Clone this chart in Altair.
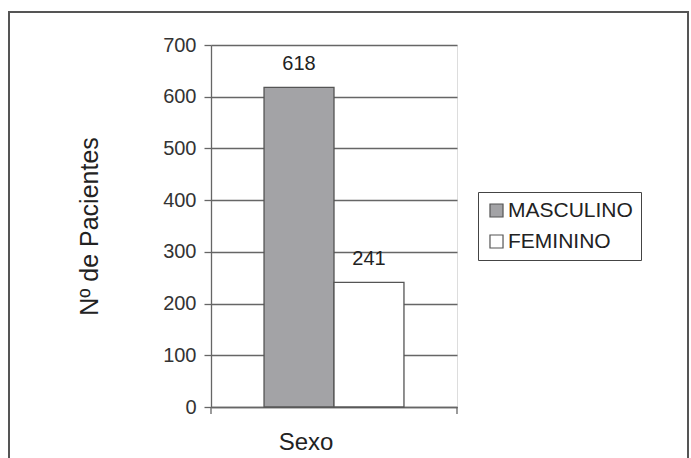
import altair as alt
import pandas as pd

# Patients by sex
categoria = ["Sexo", "Sexo"]
sexo = ["MASCULINO", "FEMININO"]
pacientes = [618, 241]
y_ticks = [0, 100, 200, 300, 400, 500, 600, 700]

df = pd.DataFrame({"categoria": categoria, "sexo": sexo, "pacientes": pacientes})

W, H = 246, 362
LEFT, TOP = 211, 45
FONT = "Liberation Sans"
LINE = "#666666"

x_enc = alt.X(
    "categoria:N",
    title=None,
    scale=alt.Scale(paddingOuter=0.379, paddingInner=0),
    axis=alt.Axis(
        labelAngle=0, labelFontSize=24, labelPadding=23, labelColor="#222222",
        labelOffset=-28,
        ticks=False, domainColor=LINE, domainWidth=1.3, grid=False,
    ),
)
xoff_enc = alt.XOffset("sexo:N", sort=sexo, scale=alt.Scale(paddingInner=0, paddingOuter=0))
y_enc = alt.Y(
    "pacientes:Q",
    title="Nº de Pacientes",
    scale=alt.Scale(domain=[0, 700], nice=False),
    axis=alt.Axis(
        values=y_ticks, labelFontSize=20, labelColor="#333333", labelPadding=8,
        tickSize=7, tickColor=LINE, tickWidth=1.3,
        domainColor=LINE, domainWidth=1.3,
        gridColor=LINE, gridWidth=1.3,
        titleFontSize=25, titleFontWeight="normal", titleColor="#222222", titlePadding=60,
    ),
)

bars = alt.Chart(df).mark_bar(stroke="#555555", strokeWidth=1.3).encode(
    x=x_enc,
    xOffset=xoff_enc,
    y=y_enc,
    color=alt.Color(
        "sexo:N",
        sort=sexo,
        scale=alt.Scale(domain=sexo, range=["#a3a3a6", "#ffffff"]),
        legend=alt.Legend(
            title=None, orient="none", legendX=478 - LEFT, legendY=192 - TOP,
            symbolType="square", symbolSize=170, symbolStrokeColor="#555555",
            symbolStrokeWidth=1.2, labelFontSize=21, labelColor="#222222",
            labelOffset=1, rowPadding=9, padding=8,
            strokeColor="#444444",
        ),
    ),
)

labels = alt.Chart(df).mark_text(
    baseline="alphabetic", dy=-17, fontSize=20, color="#222222", font=FONT
).encode(x=x_enc, xOffset=xoff_enc, y=alt.Y("pacientes:Q"), text="pacientes:Q")

# small end ticks under the category axis
tick_df = pd.DataFrame({"k": [0]})
tick_left = alt.Chart(tick_df).mark_rule(color=LINE, strokeWidth=1.3).encode(
    x=alt.value(0), y=alt.value(H), y2=alt.value(H + 7)
)
tick_right = alt.Chart(tick_df).mark_rule(color=LINE, strokeWidth=1.3).encode(
    x=alt.value(W), y=alt.value(H), y2=alt.value(H + 7)
)

# outer frame
frame = alt.Chart(tick_df).mark_rect(
    fill="transparent", stroke="#555555", strokeWidth=2
).encode(
    x=alt.value(9 - LEFT), x2=alt.value(688 - LEFT), y=alt.value(12 - TOP), y2=alt.value(430),
)

chart = alt.layer(frame, bars, labels, tick_left, tick_right).properties(
    width=W, height=H,
    padding={"left": LEFT, "top": TOP, "right": 691 - LEFT - W, "bottom": 458 - TOP - H},
    autosize=alt.AutoSizeParams(type="none"),
    background="white",
).configure_view(strokeWidth=0).configure_legend(strokeWidth=1).configure(font=FONT)

chart.save("out.html", embed_options={"renderer": "svg", "actions": False})
